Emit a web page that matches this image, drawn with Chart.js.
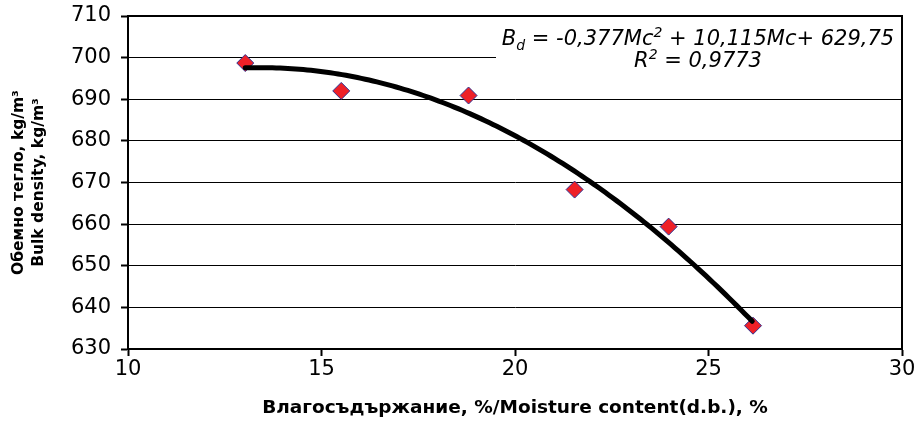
<!DOCTYPE html>
<html>
<head>
<meta charset="utf-8">
<script src="https://cdn.jsdelivr.net/npm/chart.js@4.4.1/dist/chart.umd.min.js"></script>
<style>
  html, body { margin: 0; padding: 0; background: #fff; }
  #wrap { width: 919px; height: 421px; }
</style>
</head>
<body>
<div id="wrap"><canvas id="bdChart"></canvas></div>
<script>
const moisture = [13.03, 15.51, 18.8, 21.54, 23.97, 26.15];
const bulkDensity = [698.7, 692.0, 690.9, 668.3, 659.4, 635.6];
const fitCoef = [-0.377, 10.115, 629.75];   // Bd = a*Mc^2 + b*Mc + c
const xTicks = [10, 15, 20, 25, 30];
const yTicks = [630, 640, 650, 660, 670, 680, 690, 700, 710];

const eqLine1 = [['B', 0], ['d', 1], [' = -0,377Mc', 0], ['2', -1], [' + 10,115Mc+ 629,75', 0]];
const eqLine2 = [['R', 0], ['2', -1], [' = 0,9773', 0]];

const FONT = '"DejaVu Sans", Arial, sans-serif';

// trend curve from the fitted coefficients
const fitPts = [];
for (let x = moisture[0]; x <= moisture[moisture.length - 1] + 1e-9; x += 0.1) {
    fitPts.push({ x: x, y: fitCoef[0] * x * x + fitCoef[1] * x + fitCoef[2] });
}

const measured = moisture.map((m, i) => ({ x: m, y: bulkDensity[i] }));

function drawRich(ctx, parts, cx, cy, size) {
    const fontOf = lvl => 'oblique ' + (lvl ? Math.round(size * 0.68) : size) + 'px ' + FONT;
    let w = 0;
    parts.forEach(([t, lvl]) => { ctx.font = fontOf(lvl); w += ctx.measureText(t).width; });
    let x = cx - w / 2;
    ctx.textBaseline = 'alphabetic';
    ctx.textAlign = 'left';
    parts.forEach(([t, lvl]) => {
        ctx.font = fontOf(lvl);
        const dy = lvl === 1 ? size * 0.25 : lvl === -1 ? -size * 0.38 : 0;
        ctx.fillText(t, x, cy + dy);
        x += ctx.measureText(t).width;
    });
}

const frameAndEquation = {
    id: 'frameAndEquation',
    beforeDatasetsDraw(chart) {
        const { ctx, chartArea: a } = chart;
        ctx.save();
        // equation box hides the grid behind it
        ctx.fillStyle = '#fff';
        ctx.fillRect(496, a.top + 3, a.right - 497, 64);
        ctx.fillStyle = '#000';
        drawRich(ctx, eqLine1, 698, a.top + 29, 21);
        drawRich(ctx, eqLine2, 698, a.top + 51, 21);
        // plot frame (top and right sides)
        ctx.strokeStyle = '#000';
        ctx.lineWidth = 2;
        ctx.beginPath();
        ctx.moveTo(a.left, a.top);
        ctx.lineTo(a.right, a.top);
        ctx.lineTo(a.right, a.bottom);
        ctx.stroke();
        ctx.restore();
    }
};

new Chart(document.getElementById('bdChart'), {
    type: 'scatter',
    data: {
        datasets: [{
            label: 'fit',
            type: 'line',
            data: fitPts,
            borderColor: '#000',
            borderWidth: 5,
            borderCapStyle: 'round',
            pointRadius: 0,
            fill: false,
            tension: 0,
            order: 0
        }, {
            label: 'Bd',
            data: measured,
            pointStyle: 'rectRot',
            pointRadius: 8.5,
            pointHoverRadius: 8.5,
            backgroundColor: '#ee2027',
            borderColor: '#2e3192',
            borderWidth: 1,
            order: 1
        }]
    },
    options: {
        responsive: true,
        maintainAspectRatio: false,
        animation: false,
        layout: { padding: { top: 16, right: 17, left: 0, bottom: 0 } },
        plugins: { legend: { display: false }, tooltip: { enabled: false } },
        scales: {
            x: {
                type: 'linear',
                min: xTicks[0],
                max: xTicks[xTicks.length - 1],
                afterBuildTicks: s => { s.ticks = xTicks.map(v => ({ value: v })); },
                afterFit: s => { s.height = 72; s.paddingLeft = 0; s.paddingRight = 0; },
                border: { color: '#000', width: 2 },
                grid: { drawOnChartArea: false, drawTicks: true, tickLength: 7, tickWidth: 2, tickColor: '#000' },
                ticks: { color: '#000', font: { family: FONT, size: 21 }, padding: 1, maxRotation: 0 },
                title: {
                    display: true,
                    text: 'Влагосъдържание, %/Moisture content(d.b.), %',
                    color: '#000',
                    font: { family: FONT, size: 18.5, weight: 'bold' },
                    padding: { top: 0, bottom: 2 }
                }
            },
            y: {
                type: 'linear',
                min: yTicks[0],
                max: yTicks[yTicks.length - 1],
                afterBuildTicks: s => { s.ticks = yTicks.map(v => ({ value: v })); },
                afterFit: s => { s.width = 128; s.paddingTop = 0; s.paddingBottom = 0; },
                border: { color: '#000', width: 2 },
                grid: { color: '#000', lineWidth: 1, drawTicks: true, tickLength: 7, tickWidth: 2, tickColor: '#000' },
                ticks: { color: '#000', font: { family: FONT, size: 21 }, padding: 10 },
                title: {
                    display: true,
                    text: ['Обемно тегло, kg/m³', 'Bulk density, kg/m³'],
                    color: '#000',
                    font: { family: FONT, size: 15.5, weight: 'bold', lineHeight: 1.3 },
                    padding: { top: 9, bottom: 0 }
                }
            }
        }
    },
    plugins: [frameAndEquation]
});
</script>
</body>
</html>
